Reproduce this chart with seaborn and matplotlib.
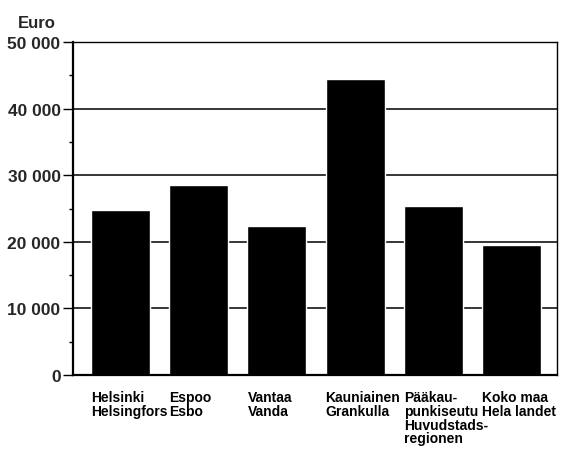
import seaborn as sns
import matplotlib.pyplot as plt
import matplotlib.ticker as mticker
import pandas as pd

# Data
areas = [
    "Helsinki\nHelsingfors",
    "Espoo\nEsbo",
    "Vantaa\nVanda",
    "Kauniainen\nGrankulla",
    "Pääkau-\npunkiseutu\nHuvudstads-\nregionen",
    "Koko maa\nHela landet",
]
income = [24800, 28500, 22300, 44400, 25400, 19500]
y_ticks = [0, 10000, 20000, 30000, 40000, 50000]
y_labels = ["0", "10 000", "20 000", "30 000", "40 000", "50 000"]

df = pd.DataFrame({"area": areas, "euro": income})

sns.set_style("white")
plt.rcParams["font.family"] = ["Liberation Sans", "DejaVu Sans"]

fig = plt.figure(figsize=(5.71, 4.52), dpi=100)
ax = fig.add_axes([0.128, 0.168, 0.848, 0.737])

bar_w = 0.755
ax.set_axisbelow(True)
ax.yaxis.grid(True, color="black", linewidth=1.1)
sns.barplot(data=df, x="area", y="euro", color="black", width=bar_w,
            saturation=1, ax=ax)

ax.set_ylim(0, 50000)
ax.set_xlim(-0.61, len(areas) - 0.41)
ax.set_yticks(y_ticks)
ax.set_yticklabels(y_labels, fontsize=12.5, fontweight="bold")
ax.yaxis.set_minor_locator(mticker.MultipleLocator(5000))
ax.tick_params(axis="y", which="major", left=True, length=7, width=1,
               color="black", pad=2)
ax.tick_params(axis="y", which="minor", left=True, length=3, width=1,
               color="black")
ax.tick_params(axis="x", bottom=False, labelbottom=False)
ax.set_xlabel("")
ax.set_ylabel("")

for side in ["left", "bottom"]:
    ax.spines[side].set_color("black")
    ax.spines[side].set_linewidth(1.6)
for side in ["right", "top"]:
    ax.spines[side].set_color("black")
    ax.spines[side].set_linewidth(1.0)

# category labels, left-aligned at each bar's left edge
trans = ax.get_xaxis_transform()
for i, name in enumerate(areas):
    ax.text(i - bar_w / 2, -0.045, name, transform=trans, ha="left",
            va="top", fontsize=10, fontweight="bold", linespacing=0.98,
            color="black")

fig.text(0.032, 0.965, "Euro", ha="left", va="top", fontsize=12,
         fontweight="bold")

fig.savefig("out.png", dpi=100)
plt.close(fig)
